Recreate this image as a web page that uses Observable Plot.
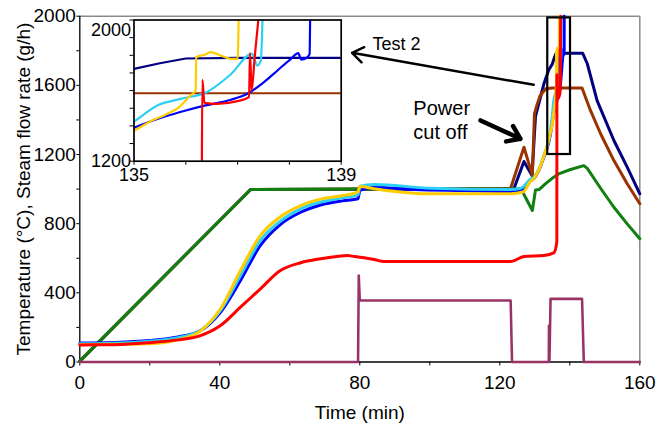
<!DOCTYPE html>
<html><head><meta charset="utf-8">
<script src="https://cdn.jsdelivr.net/npm/d3@7"></script>
<script src="https://cdn.jsdelivr.net/npm/@observablehq/plot@0.6"></script>
<style>
body{margin:0;background:#fff;}
#wrap{position:relative;width:658px;height:435px;overflow:hidden;background:#fff;}
#inset{position:absolute;left:85px;top:5px;pointer-events:none;}
</style></head><body><div id="wrap"></div>
<script>
// ---- data (time in min, value in °C or g/h) ----
const navyTC = [[0,5],[48.8,998],[124,1000],[126.9,1160],[129.2,1079],[130.2,1420],[132.6,1609],[134,1690],[135,1723],[135.5,1755],[136,1782],[137,1785],[143.7,1785],[145,1725],[147.8,1512],[152.6,1281],[156.4,1127],[160,973]];
const brownTC = [[0,5],[48.8,998],[123.1,1005],[126.9,1242],[129.3,1079],[129.9,1435],[130.5,1480],[131.5,1540],[133.1,1580],[135,1585],[139,1585],[143.5,1585],[145.9,1455],[148.8,1320],[152.6,1165],[156.4,1031],[160,915]];
const greenTC = [[0,5],[48.8,998],[80,1000],[125.5,1000],[126.5,985],[129.3,876],[130.2,995],[131.3,998],[133,1030],[135.4,1069],[137,1090],[140,1112],[144,1136],[145,1120],[148.8,1005],[152.6,895],[156.4,799],[160,713]];
const blueTC = [[0,110],[10,113],[20,124],[28,145],[34.5,182],[40.2,288],[45.9,471],[51.6,674],[57.3,795],[63.1,866],[68.8,908],[75,932],[79.5,944],[80,992],[84.1,1011],[95.5,998],[109.8,992],[123.1,986],[126,992],[128.8,1050],[129.7,1060],[132.6,1185],[134.5,1320],[135,1389],[135.6,1453],[136,1487],[136.38,1516],[136.87,1548],[137.19,1582],[137.51,1648],[137.77,1714],[138.03,1780],[138.17,1812],[138.23,1775],[138.35,1790],[138.39,1808],[138.4,2000]];
const cyanTC = [[0,105],[10,108],[20,120],[28,140],[34.5,182],[40.2,298],[45.9,500],[51.6,703],[57.3,815],[63.1,886],[68.8,925],[75,950],[79.5,967],[80,1017],[84.1,1027],[100.3,1005],[123.1,998],[126,1005],[128.8,1058],[129.7,1068],[132.6,1195],[134.5,1340],[135,1425],[135.45,1516],[135.9,1553],[136.4,1591],[136.86,1690],[137.28,1808],[137.38,1742],[137.45,1771],[137.48,2000]];
const yellowTC = [[0,100],[10,102],[20,105],[28,128],[34.5,180],[40.2,308],[45.9,529],[51.6,732],[57.3,840],[63.1,905],[68.8,942],[75,962],[78.5,976],[79.5,985],[80,1015],[84.1,1002],[99.2,973],[123.1,973],[126.6,983],[128.8,1045],[129.7,1060],[132.6,1190],[134.5,1330],[135,1374],[135.35,1431],[135.6,1462],[135.87,1506],[136.1,1575],[136.19,1600],[136.2,1789],[136.38,1805],[136.48,1818],[136.67,1799],[136.87,1780],[137.0,1780],[137.02,2000]];
const redTC = [[0,99],[10,100],[20,112],[28,128],[34.5,153],[40.2,211],[45.9,317],[51.6,423],[57.3,529],[63.1,574],[68.8,597],[74,612],[76.4,616],[78.5,610],[84.1,593],[86.9,581],[123.1,581],[126.9,610],[132.6,616],[135.4,631],[136.2,683],[136.3,700],[136.32,1661],[136.36,1530],[136.6,1525],[137.0,1540],[137.22,1563],[137.24,1812],[137.27,1600],[137.33,1790],[137.4,2000]];
const steamFlow = [[0,0],[79.5,0],[79.7,500],[80,356],[123.1,356],[123.5,0],[134.0,0],[134.05,211],[134.2,10],[134.5,365],[143.5,365],[144.0,0],[160,0]];

const xTicks = [0,20,40,60,80,100,120,140,160];
const xLabels = [0,40,80,120,160];
const yTicks = [0,200,400,600,800,1000,1200,1400,1600,1800,2000];
const yLabels = [0,400,800,1200,1600,2000];
const insetXTicks = [135,136,137,138,139];
const insetXLabels = [135,139];
const insetYTicks = [1200,1300,1400,1500,1600,1700,1800,1900,2000];

const xTitle = "Time (min)";
const yTitle = "Temperature (°C), Steam flow rate (g/h)";
const zoomBox = [{t1:133.7, t2:140.2, v1:1200, v2:1990}];
const test2Text = [{t:83.6, v:1835, label:"Test 2"}];
const test2Arrow = [{t1:129.7, v1:1603, t2:77.8, v2:1788}];
const powerText = [{t:95.3, v:1467, label:"Power"},{t:95.3, v:1328, label:"cut off"}];
const powerArrow = [{t1:114.5, v1:1397, t2:125.9, v2:1291}];

// ---- drawing ----
const FONT = '"Liberation Sans", Arial, Helvetica, sans-serif';
const series = [
  {data: navyTC, color: "#000080", curve: "linear"},
  {data: brownTC, color: "#993300", curve: "linear"},
  {data: greenTC, color: "#108010", curve: "linear"},
  {data: blueTC, color: "#0000ff", curve: "monotone-x"},
  {data: cyanTC, color: "#2ccff5", curve: "monotone-x"},
  {data: yellowTC, color: "#ffcc00", curve: "monotone-x"},
  {data: redTC, color: "#ff0000", curve: "monotone-x"},
  {data: steamFlow, color: "#993366", curve: "linear"}
];
const lines = (w, clip) => series.map(s => Plot.line(s.data, {
  x: d => d[0], y: d => d[1], stroke: s.color, curve: s.curve,
  strokeWidth: s.color === "#993366" ? w * 0.85 : w,
  strokeLinejoin: "round", strokeLinecap: "round", clip
}));

const main = Plot.plot({
  width: 658, height: 435,
  marginLeft: 79.3, marginRight: 18.7, marginTop: 15.7, marginBottom: 73.5,
  x: {domain: [0, 160]},
  y: {domain: [0, 2000]},
  style: {fontFamily: FONT, fontSize: "19px", color: "black", background: "white"},
  marks: [
    Plot.ruleY([2000], {stroke: "#8a8a8a", strokeWidth: 1.5}),
    Plot.ruleX([160], {stroke: "#8a8a8a", strokeWidth: 1.5}),
    Plot.axisX({ticks: xTicks, tickSize: 4, tickPadding: 9, tickFormat: d => xLabels.includes(d) ? String(d) : "", label: null}),
    Plot.axisY({ticks: yTicks, tickSize: 3, tickPadding: 1, tickFormat: d => yLabels.includes(d) ? String(d) : "", label: null}),
    Plot.ruleX([0], {stroke: "black", strokeWidth: 1.3}),
    Plot.ruleY([0], {stroke: "black", strokeWidth: 1.3}),
    ...lines(3, false),
    Plot.rect(zoomBox, {x1: "t1", x2: "t2", y1: "v1", y2: "v2", fill: "none", stroke: "black", strokeWidth: 2.2}),
    Plot.arrow(test2Arrow, {x1: "t1", y1: "v1", x2: "t2", y2: "v2", stroke: "black", strokeWidth: 2.5, headLength: 8, headAngle: 70}),
    Plot.arrow(powerArrow, {x1: "t1", y1: "v1", x2: "t2", y2: "v2", stroke: "black", strokeWidth: 4.5, headLength: 5.5, headAngle: 70}),
    Plot.text(test2Text, {x: "t", y: "v", text: "label", textAnchor: "start", fontSize: 18}),
    Plot.text(powerText, {x: "t", y: "v", text: "label", textAnchor: "start", fontSize: 20}),
    Plot.text([xTitle], {frameAnchor: "bottom", dy: 57, fontSize: 19}),
    Plot.text([yTitle], {frameAnchor: "left", textAnchor: "middle", rotate: -90, dx: -56, fontSize: 19})
  ]
});

const inset = Plot.plot({
  width: 290, height: 190,
  marginLeft: 48.5, marginRight: 34.3, marginTop: 14.5, marginBottom: 34.3,
  x: {domain: [135, 139]},
  y: {domain: [1200, 2000]},
  style: {fontFamily: FONT, fontSize: "18px", color: "black", background: "transparent", overflow: "visible"},
  marks: [
    Plot.frame({fill: "white", stroke: "none"}),
    ...lines(2.2, true),
    Plot.frame({stroke: "black", strokeWidth: 1.7}),
    Plot.axisX({ticks: insetXTicks, tickSize: 4, tickPadding: 3, tickFormat: d => insetXLabels.includes(d) ? String(d) : "", label: null}),
    Plot.axisY({ticks: insetYTicks, tickSize: 4, tickFormat: () => "", label: null}),
    Plot.text([2000], {x: () => 135, y: d => d, text: d => String(d), textAnchor: "end", dx: -3, dy: 10}),
    Plot.text([1200], {x: () => 135, y: d => d, text: d => String(d), textAnchor: "end", dx: -3, dy: 0})
  ]
});
inset.id = "inset";

const wrap = document.getElementById("wrap");
wrap.appendChild(main);
wrap.appendChild(inset);
</script></body></html>
